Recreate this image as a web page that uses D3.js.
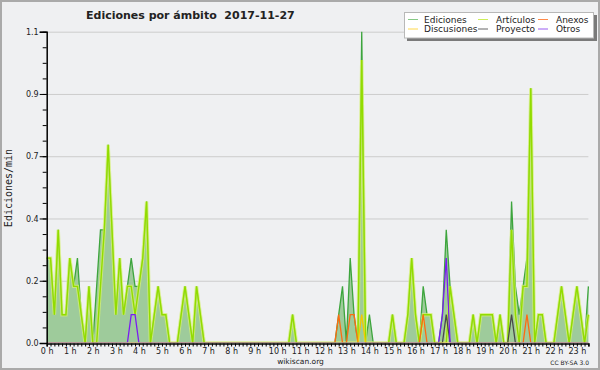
<!DOCTYPE html>
<html>
<head>
<meta charset="utf-8">
<script src="https://cdn.jsdelivr.net/npm/d3@7/dist/d3.min.js"></script>
<style>
body { margin: 0; background: #fff; }
svg text { font-family: "DejaVu Sans", sans-serif; fill: #222; }
</style>
</head>
<body>
<div id="chart"></div>
<script>
// ediciones por minuto, bloques de 10 min (0 h -> 23 h 30)
var total = [
  0.3,0.3,0.1,0.4,0.1,0.1,0.3,0.2,0.3,0.1,0,0.2,
  0,0.2,0.4,0.4,0.7,0.4,0.1,0.3,0.1,0.2,0.3,0.2,
  0.2,0.3,0.5,0,0.1,0.2,0.1,0.1,0,0,0,0.1,
  0.2,0.1,0,0.2,0.1,0,0,0,0,0,0,0,
  0,0,0,0,0,0,0,0,0,0,0,0,
  0,0,0,0,0.1,0,0,0,0,0,0,0,
  0,0,0,0,0.1,0.2,0,0.3,0.1,0,1.1,0,
  0.1,0,0,0,0,0,0.1,0,0,0,0.1,0.3,
  0.1,0,0.2,0.1,0.1,0,0,0.1,0.4,0.2,0.1,0,
  0,0,0,0.1,0,0.1,0.1,0.1,0.1,0,0.1,0,
  0,0.5,0.2,0.1,0.2,0.3,0.9,0,0.1,0.1,0,0,
  0,0.1,0.2,0.1,0,0.1,0.2,0.1,0,0.2
];
var articulos = [
  0.3,0.3,0.1,0.4,0.1,0.1,0.3,0.2,0.2,0.1,0,0.2,
  0,0,0.2,0.4,0.7,0.4,0.1,0.3,0.1,0.2,0.2,0.1,
  0.2,0.3,0.5,0,0.1,0.2,0.1,0.1,0,0,0,0.1,
  0.2,0.1,0,0.2,0.1,0,0,0,0,0,0,0,
  0,0,0,0,0,0,0,0,0,0,0,0,
  0,0,0,0,0.1,0,0,0,0,0,0,0,
  0,0,0,0,0,0,0,0,0,0,1.0,0,
  0,0,0,0,0,0,0.1,0,0,0,0.1,0.3,
  0.1,0,0.1,0.1,0.1,0,0,0,0,0.2,0.1,0,
  0,0,0,0.1,0,0.1,0.1,0.1,0.1,0,0.1,0,
  0,0.4,0.1,0,0.2,0.2,0.9,0,0.1,0.1,0,0,
  0,0.1,0.2,0.1,0,0.1,0.2,0.1,0,0.1
];
var anexos = [
  0,0,0,0,0,0,0,0,0,0,0,0,
  0,0,0,0,0,0,0,0,0,0,0,0,
  0,0,0,0,0,0,0,0,0,0,0,0,
  0,0,0,0,0,0,0,0,0,0,0,0,
  0,0,0,0,0,0,0,0,0,0,0,0,
  0,0,0,0,0,0,0,0,0,0,0,0,
  0,0,0,0,0.1,0,0,0.1,0.1,0,0,0,
  0,0,0,0,0,0,0,0,0,0,0,0,
  0,0,0.1,0,0,0,0,0,0,0,0,0,
  0,0,0,0,0,0,0,0,0,0,0,0,
  0,0,0,0,0,0.1,0,0,0,0,0,0,
  0,0,0,0,0,0,0,0,0,0
];
var discusiones = [
  0,0,0,0,0,0,0,0,0,0,0,0,
  0,0,0,0,0,0,0,0,0,0,0,0,
  0,0,0,0,0,0,0,0,0,0,0,0,
  0,0,0,0,0,0,0,0,0,0,0,0,
  0,0,0,0,0,0,0,0,0,0,0,0,
  0,0,0,0,0,0,0,0,0,0,0,0,
  0,0,0,0,0,0,0,0,0,0,0.1,0,
  0,0,0,0,0,0,0,0,0,0,0,0,
  0,0,0,0,0,0,0,0,0,0,0,0,
  0,0,0,0,0,0,0,0,0,0,0,0,
  0,0,0,0,0,0,0,0,0,0,0,0,
  0,0,0,0,0,0,0,0,0,0
];
var proyecto = [
  0,0,0,0,0,0,0,0,0,0,0,0,
  0,0,0,0,0,0,0,0,0,0,0,0,
  0,0,0,0,0,0,0,0,0,0,0,0,
  0,0,0,0,0,0,0,0,0,0,0,0,
  0,0,0,0,0,0,0,0,0,0,0,0,
  0,0,0,0,0,0,0,0,0,0,0,0,
  0,0,0,0,0,0,0,0,0,0,0,0,
  0,0,0,0,0,0,0,0,0,0,0,0,
  0,0,0,0,0,0,0,0,0.1,0,0,0,
  0,0,0,0,0,0,0,0,0,0,0,0,
  0,0.1,0,0,0,0,0,0,0,0,0,0,
  0,0,0,0,0,0,0,0,0,0
];
var otros = [
  0,0,0,0,0,0,0,0,0,0,0,0,
  0,0,0,0,0,0,0,0,0,0,0.1,0.1,
  0,0,0,0,0,0,0,0,0,0,0,0,
  0,0,0,0,0,0,0,0,0,0,0,0,
  0,0,0,0,0,0,0,0,0,0,0,0,
  0,0,0,0,0,0,0,0,0,0,0,0,
  0,0,0,0,0,0,0,0,0,0,0,0,
  0,0,0,0,0,0,0,0,0,0,0,0,
  0,0,0,0,0,0,0,0.1,0.3,0,0,0,
  0,0,0,0,0,0,0,0,0,0,0,0,
  0,0,0,0,0,0,0,0,0,0,0,0,
  0,0,0,0,0,0,0,0,0,0
];
var hourLabels = ["0 h","1 h","2 h","3 h","4 h","5 h","6 h","7 h","8 h","9 h","10 h","11 h",
                  "12 h","13 h","14 h","15 h","16 h","17 h","18 h","19 h","20 h","21 h","22 h","23 h"];
var yMajor = [0, 0.22, 0.44, 0.66, 0.88, 1.1];
var legendNames = ["Ediciones", "Artículos", "Anexos", "Discusiones", "Proyecto", "Otros"];
var legendColors = ["#86c986", "#cdee5a", "#ff8a4a", "#ffd84a", "#666666", "#9a5cf0"];

var width = 600, height = 370;

var svg = d3.select("#chart").append("svg")
    .attr("width", width)
    .attr("height", height);

svg.append("rect")
    .attr("x", 1).attr("y", 1)
    .attr("width", width - 2).attr("height", height - 2)
    .attr("fill", "#eff0f2")
    .attr("stroke", "#aaaaaa")
    .attr("stroke-width", 2);

var x = d3.scaleLinear().domain([0, total.length - 1]).range([46.7, 588.4]);
var y = d3.scaleLinear().domain([0, 1.1]).range([343, 31.7]);

// keep zero stretches of lines hidden under the axis
svg.append("clipPath").attr("id", "plotclip")
  .append("rect")
    .attr("x", 46).attr("y", 20)
    .attr("width", 545).attr("height", 342.2 - 20);

// grid
svg.append("g")
    .attr("transform", "translate(46.7,0)")
    .call(d3.axisLeft(y).tickValues(yMajor.slice(1)).tickSize(-(588.4 - 46.7)).tickFormat(""))
    .call(function(g) {
        g.select(".domain").remove();
        g.selectAll("line").attr("stroke", "#cccccc").attr("stroke-width", 1);
    });

var plot = svg.append("g").attr("clip-path", "url(#plotclip)");

// total edits area + line
var area = d3.area()
    .x(function(d, i) { return x(i); })
    .y0(y(0))
    .y1(function(d) { return y(d); });

var line = d3.line()
    .x(function(d, i) { return x(i); })
    .y(function(d) { return y(d); });

plot.append("path")
    .datum(total)
    .attr("d", area)
    .attr("fill", "#9ecb9b");

plot.append("path")
    .datum(total)
    .attr("d", line)
    .attr("fill", "none")
    .attr("stroke", "#3da53d")
    .attr("stroke-width", 1.3);

// articulos, with glow
plot.append("path")
    .datum(articulos)
    .attr("d", line)
    .attr("fill", "none")
    .attr("stroke", "#d4f070")
    .attr("stroke-opacity", 0.75)
    .attr("stroke-width", 3.4);

plot.append("path")
    .datum(articulos)
    .attr("d", line)
    .attr("fill", "none")
    .attr("stroke", "#92dc00")
    .attr("stroke-width", 1.4);

var others = [
    {data: anexos, color: "#ff6a10"},
    {data: discusiones, color: "#f5c800"},
    {data: proyecto, color: "#4a4a4a"},
    {data: otros, color: "#7a1cf0"}
];

others.forEach(function(s) {
    plot.append("path")
        .datum(s.data)
        .attr("d", line)
        .attr("fill", "none")
        .attr("stroke", s.color)
        .attr("stroke-width", 1.3);
});

// y axis
svg.append("g")
    .attr("transform", "translate(46.7,0)")
    .call(d3.axisLeft(y).tickValues(d3.range(0, 21).map(function(i) { return i * 0.055; }))
          .tickSize(4).tickFormat(""))
    .call(function(g) { g.select(".domain").remove(); });

var yAxis = svg.append("g")
    .attr("transform", "translate(46.7,0)")
    .call(d3.axisLeft(y).tickValues(yMajor).tickSize(7).tickPadding(1).tickFormat(d3.format(".1f")));
yAxis.selectAll("text").style("font-size", "8px").attr("fill", "#333");
yAxis.selectAll("line, path").attr("stroke", "#000");
yAxis.select(".domain").attr("stroke-width", 1.5);

// x axis
var xAxis = svg.append("g")
    .attr("transform", "translate(0,343.5)")
    .call(d3.axisBottom(x).tickValues(d3.range(0, total.length)).tickSize(3).tickPadding(2)
          .tickFormat(function(d) { return d % 6 === 0 ? hourLabels[d / 6] : ""; }));
xAxis.selectAll("text").style("font-size", "8px").attr("fill", "#333");
xAxis.selectAll("line, path").attr("stroke", "#000");
xAxis.select(".domain").attr("stroke-width", 1.5);

// titles
svg.append("text")
    .attr("x", 86).attr("y", 18.5)
    .attr("xml:space", "preserve")
    .style("font-size", "11px").style("font-weight", "bold")
    .attr("fill", "#111")
    .text("Ediciones por ámbito  2017-11-27");

svg.append("text")
    .attr("transform", "translate(12,188) rotate(-90)")
    .attr("text-anchor", "middle")
    .style("font-family", "'DejaVu Sans Mono', monospace")
    .style("font-size", "10px")
    .text("Ediciones/min");

svg.append("text")
    .attr("x", 300.5).attr("y", 364)
    .attr("text-anchor", "middle")
    .style("font-size", "7.5px")
    .attr("fill", "#444")
    .text("wikiscan.org");

svg.append("text")
    .attr("x", 589).attr("y", 365)
    .attr("text-anchor", "end")
    .style("font-size", "6px")
    .attr("fill", "#444")
    .text("CC BY-SA 3.0");

// legend
svg.append("rect")
    .attr("x", 407).attr("y", 15).attr("width", 190).attr("height", 26)
    .attr("fill", "#7a7a7a");
svg.append("rect")
    .attr("x", 404.5).attr("y", 12.5).attr("width", 189).attr("height", 25.5)
    .attr("fill", "#ffffff").attr("stroke", "#b8b8b8");

var colLine = [408, 478, 538], colText = [424, 496, 556], rowY = [19.5, 29];
legendNames.forEach(function(name, i) {
    var c = i % 3, r = Math.floor(i / 3);
    svg.append("line")
        .attr("x1", colLine[c]).attr("x2", colLine[c] + 10)
        .attr("y1", rowY[r]).attr("y2", rowY[r])
        .attr("stroke", legendColors[i]).attr("stroke-width", 1);
    svg.append("text")
        .attr("x", colText[c]).attr("y", rowY[r] + 3.3)
        .style("font-size", "9px")
        .attr("fill", "#333")
        .text(name);
});
</script>
</body>
</html>
